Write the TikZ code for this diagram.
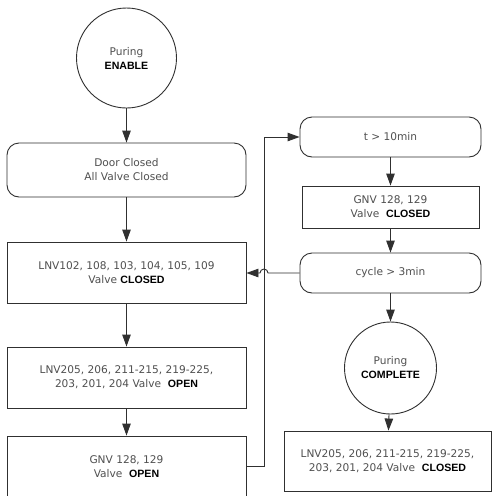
\documentclass[tikz,border=0pt]{standalone}
\usepackage{fontspec}
\setmainfont{DejaVu Sans}
\newfontfamily\kwfont{Liberation Sans}
\usetikzlibrary{arrows.meta}
\definecolor{txtgray}{HTML}{505050}
\definecolor{linegray}{HTML}{303030}
\newcommand\kw[1]{{\kwfont\bfseries\color{black}#1}}
\tikzset{
  base/.style={draw=linegray, line width=0.9pt, align=center, inner sep=0pt,
    font=\fontsize{10.6}{14}\selectfont, text=txtgray},
  stepbox/.style={base, rectangle, minimum width=#1, minimum height=61},
  condbox/.style={base, rectangle, rounded corners=12, minimum width=181, minimum height=40},
  termcircle/.style={base, circle, minimum size=#1},
  flow/.style={draw=linegray, line width=0.9pt, -{Triangle[length=12pt,width=8.5pt]}},
  link/.style={draw=linegray, line width=0.9pt}
}
\begin{document}
\begin{tikzpicture}[x=1pt,y=-1pt]
\useasboundingbox[fill=white] (0,0) rectangle (493,496);

% left column
\node[termcircle=100] (start) at (126.5,58) {Puring\\\kw{ENABLE}};
\node[base, rectangle, rounded corners=12, minimum width=239, minimum height=54] (door) at (126.5,170)
  {Door Closed\\All Valve Closed};
\node[stepbox=239] (lnv1) at (126.5,272.5) {LNV102, 108, 103, 104, 105, 109\\Valve \kw{CLOSED}};
\node[stepbox=239] (lnv2) at (126.5,377.5) {LNV205, 206, 211-215, 219-225,\\203, 201, 204 Valve \ \kw{OPEN}};
\node[stepbox=239] (gnvopen) at (126.5,466.5) {GNV 128, 129\\Valve \ \kw{OPEN}};

% right column
\node[condbox] (tmin) at (390.5,137) {t > 10min};
\node[stepbox=177, minimum height=42] (gnvclose) at (390.5,207) {GNV 128, 129\\Valve \ \kw{CLOSED}};
\node[condbox] (cycle) at (390.5,273) {cycle > 3min};
\node[termcircle=92] (done) at (390.5,368) {Puring\\\kw{COMPLETE}};
\node[stepbox=207, minimum height=60] (lnv3) at (387.5,461) {LNV205, 206, 211-215, 219-225,\\203, 201, 204 Valve \ \kw{CLOSED}};

\coordinate (bus) at (264,0);

% main flow
\draw[flow] (start) -- (door);
\draw[flow] (door) -- (lnv1);
\draw[flow] (lnv1) -- (lnv2);
\draw[flow] (lnv2) -- (gnvopen);
\draw[flow] (gnvopen.east) -- (bus |- gnvopen.east) -- (bus |- tmin.west) -- (tmin.west);
\draw[flow] (tmin) -- (gnvclose);
\draw[flow] (gnvclose) -- (cycle);
\draw[flow] (cycle) -- (done);
\draw[flow] (done) -- (lnv3);

% loop back, hopping over the vertical line
\draw[flow] (cycle.west) -- ([xshift=4]bus |- cycle.west)
  arc[start angle=0, end angle=-180, radius=4] -- (lnv1.east |- cycle.west);
\end{tikzpicture}
\end{document}
